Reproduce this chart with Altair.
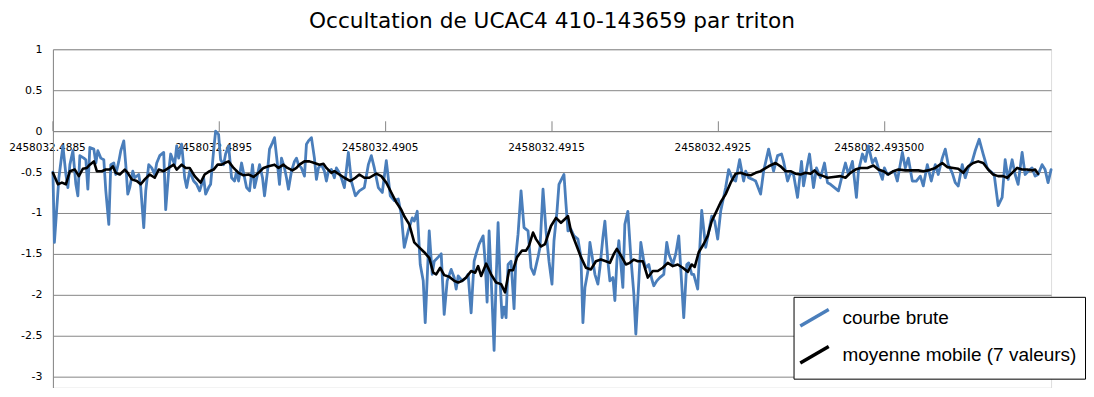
import altair as alt
import pandas as pd

# Time offsets are in micro-days after JD 2458032.4885
RAW_T = [0, 9, 36, 60, 78, 90, 102, 120, 138, 150, 162, 186, 198, 210, 222, 246, 258, 270, 288, 306,
         318, 336, 348, 366, 378, 396, 408, 426, 438, 450, 462, 480, 492, 516, 528, 546, 558, 576, 594, 612,
         624, 642, 666, 678, 696, 708, 732, 744, 756, 774, 792, 804, 822, 846, 864, 882, 906, 918, 936, 948,
         966, 978, 996, 1008, 1026, 1038, 1056, 1074, 1092, 1104, 1116, 1134, 1152, 1164, 1182, 1200, 1212, 1230, 1242, 1260,
         1272, 1290, 1302, 1320, 1332, 1350, 1362, 1374, 1392, 1404, 1416, 1434, 1452, 1464, 1476, 1494, 1512, 1524, 1536, 1554,
         1572, 1584, 1596, 1614, 1632, 1644, 1656, 1674, 1692, 1704, 1716, 1734,
         1752, 1776, 1794, 1818, 1842, 1872, 1896, 1914, 1932, 1956, 1980, 2004, 2028, 2052, 2076, 2094,
         2112, 2136, 2160, 2172, 2190, 2208, 2226, 2238, 2250, 2262, 2280, 2292, 2316, 2334, 2352, 2370, 2394, 2412, 2424, 2436,
         2460, 2484, 2496, 2514, 2532, 2544, 2562, 2586, 2598, 2610, 2622, 2640, 2652, 2664, 2676, 2688, 2700, 2712, 2724, 2736,
         2754, 2772, 2784, 2796, 2814, 2832, 2856, 2874, 2892, 2916, 2928, 2946, 2964, 2982, 3000, 3012, 3030, 3042, 3072, 3084,
         3096, 3114, 3132, 3156, 3174, 3186, 3198, 3216, 3228, 3246, 3258, 3276, 3288, 3306, 3318, 3336, 3348, 3366, 3378, 3390,
         3402, 3426, 3438, 3456, 3474, 3492, 3504, 3522, 3534, 3552, 3564, 3582, 3600, 3612, 3630, 3648, 3672, 3690, 3702, 3726,
         3744, 3762, 3792, 3810, 3822, 3840, 3852, 3876, 3900, 3924, 3960, 3978, 3996, 4014, 4044, 4062, 4086, 4104, 4128, 4152,
         4164, 4182, 4206, 4224, 4254, 4272, 4302, 4332, 4356, 4380, 4392, 4416, 4434, 4452, 4476, 4500, 4512, 4530, 4548, 4572,
         4590, 4614, 4638, 4656, 4674, 4698, 4722, 4746, 4764, 4782, 4806, 4830, 4842, 4866, 4884, 4902, 4926, 4944, 4962, 4986,
         4998, 5016, 5034, 5058, 5076, 5106, 5124, 5142, 5166, 5190, 5214, 5232, 5256, 5280, 5304, 5322, 5346, 5364, 5382, 5406,
         5424, 5442, 5466, 5484, 5502, 5526, 5544, 5568, 5592, 5616, 5634, 5658, 5682, 5706, 5724, 5742, 5766, 5784, 5802, 5826,
         5844, 5862, 5886, 5904, 5922, 5946, 5964, 5982, 6000]
RAW_V = [-0.50, -1.36, -0.57, -0.18, -0.53, -0.69, -0.41, -0.24, -0.65, -0.79, -0.30, -0.33, -0.35, -0.71, -0.20, -0.22, -0.39, -0.24, -0.33, -0.35,
         -0.73, -1.14, -0.41, -0.39, -0.53, -0.37, -0.24, -0.12, -0.41, -0.77, -0.69, -0.49, -0.57, -0.53, -0.69, -1.18, -0.73, -0.41, -0.45, -0.53,
         -0.39, -0.30, -0.26, -0.96, -0.49, -0.28, -0.41, -0.18, -0.33, -0.16, -0.57, -0.69, -0.49, -0.61, -0.65, -0.73, -0.57, -0.77, -0.69, -0.65,
         -0.24, 0.0, -0.04, -0.35, -0.41, -0.28, -0.18, -0.57, -0.61, -0.49, -0.61, -0.39, -0.57, -0.69, -0.73, -0.41, -0.69, -0.53, -0.41, -0.57,
         -0.79, -0.49, -0.22, -0.14, -0.08, -0.41, -0.65, -0.33, -0.45, -0.57, -0.71, -0.49, -0.37, -0.33, -0.41, -0.45, -0.55, -0.16, -0.12, -0.08,
         -0.33, -0.59, -0.45, -0.41, -0.49, -0.61, -0.49, -0.47, -0.57, -0.45, -0.49, -0.57,
         -0.69, -0.26, -0.61, -0.79, -0.73, -0.69, -0.41, -0.30, -0.45, -0.69, -0.75, -0.36, -0.79, -0.85, -0.83, -1.02,
         -1.42, -1.22, -1.06, -1.10, -0.98, -1.63, -1.83, -2.34, -1.79, -1.22, -1.75, -1.59, -1.54, -1.50, -2.24, -1.83, -1.69, -1.79, -1.93, -1.77,
         -1.83, -1.79, -1.75, -2.22, -1.59, -1.50, -1.38, -1.28, -1.59, -2.09, -1.22, -2.07, -2.68, -1.83, -1.12, -1.83, -2.28, -2.15, -2.28, -1.63,
         -1.59, -2.17, -1.50, -1.26, -0.73, -1.18, -1.22, -1.67, -1.75, -1.54, -1.42, -0.71, -1.22, -1.59, -1.87, -1.34, -0.98, -0.65, -0.53, -0.89,
         -1.22, -1.20, -1.28, -1.32, -1.54, -2.34, -1.91, -1.71, -1.36, -1.59, -1.75, -1.87, -1.67, -1.30, -1.10, -1.59, -1.83, -1.79, -2.07, -1.59,
         -1.34, -1.91, -1.14, -0.98, -1.54, -1.99, -2.48, -1.83, -1.36, -1.59, -1.67, -1.63, -1.81, -1.89, -1.83, -1.79, -1.75, -1.36, -1.50, -1.63,
         -1.50, -1.28, -2.28, -1.63, -1.61, -1.75, -1.75, -1.93, -0.97, -1.42, -1.04, -1.10, -1.32, -0.98, -0.69, -0.47, -0.59, -0.61, -0.35, -0.61,
         -0.49, -0.57, -0.59, -0.61, -0.77, -0.49, -0.22, -0.49, -0.30, -0.28, -0.37, -0.61, -0.51, -0.53, -0.81, -0.37, -0.67, -0.47, -0.28, -0.69,
         -0.45, -0.57, -0.39, -0.63, -0.65, -0.69, -0.73, -0.53, -0.39, -0.53, -0.37, -0.81, -0.49, -0.28, -0.37, -0.18, -0.39, -0.33, -0.45, -0.59,
         -0.45, -0.53, -0.51, -0.49, -0.61, -0.26, -0.45, -0.33, -0.61, -0.61, -0.55, -0.67, -0.41, -0.61, -0.41, -0.53, -0.33, -0.22, -0.41, -0.51,
         -0.63, -0.67, -0.41, -0.57, -0.45, -0.37, -0.24, -0.10, -0.28, -0.45, -0.49, -0.53, -0.91, -0.81, -0.35, -0.59, -0.35, -0.53, -0.65, -0.26,
         -0.53, -0.49, -0.45, -0.55, -0.53, -0.41, -0.47, -0.63, -0.47]

AVG_T = [0, 30, 54, 78, 102, 132, 156, 180, 204, 222, 246, 264, 294, 318, 342, 360, 378, 402, 432, 450,
         474, 504, 528, 552, 582, 612, 636, 666, 696, 726, 744, 774, 798, 822, 852, 888, 912, 942, 966, 990,
         1014, 1032, 1056, 1086, 1116, 1146, 1176, 1206, 1236, 1266, 1296, 1332, 1356, 1386, 1410, 1440, 1464, 1482, 1512, 1542,
         1572, 1602, 1626, 1644, 1674, 1692, 1722, 1752, 1788, 1818, 1842, 1872, 1902, 1944, 1974, 2004, 2034, 2064, 2094, 2112,
         2142, 2172, 2202, 2232, 2262, 2286, 2304, 2328, 2352, 2382, 2412, 2436, 2460, 2484, 2514, 2538, 2556, 2574, 2604, 2634,
         2664, 2694, 2718, 2742, 2766, 2790, 2820, 2844, 2862, 2886, 2904, 2934, 2958, 2994, 3024, 3054, 3096, 3114, 3144, 3174,
         3204, 3234, 3264, 3294, 3324, 3348, 3372, 3390, 3414, 3444, 3468, 3492, 3516, 3546, 3576, 3606, 3636, 3666, 3696, 3726,
         3756, 3786, 3816, 3840, 3858, 3882, 3912, 3936, 3960, 3984, 4014, 4044, 4074, 4104, 4134, 4164, 4194, 4224, 4254, 4302,
         4344, 4374, 4404, 4434, 4464, 4494, 4524, 4554, 4578, 4602, 4632, 4656, 4692, 4734, 4764, 4794, 4824, 4854, 4896, 4932,
         4962, 4992, 5022, 5052, 5082, 5124, 5166, 5202, 5232, 5262, 5304, 5346, 5376, 5412, 5442, 5472, 5502, 5532, 5562, 5592,
         5622, 5652, 5682, 5712, 5736, 5766, 5796, 5826, 5856, 5886, 5904, 5922]
AVG_V = [-0.51, -0.65, -0.63, -0.65, -0.49, -0.47, -0.55, -0.46, -0.45, -0.41, -0.37, -0.49, -0.49, -0.47, -0.47, -0.43, -0.51, -0.53, -0.47, -0.51,
         -0.59, -0.61, -0.65, -0.59, -0.53, -0.57, -0.47, -0.49, -0.45, -0.41, -0.47, -0.41, -0.45, -0.45, -0.55, -0.63, -0.53, -0.49, -0.47, -0.41,
         -0.41, -0.39, -0.37, -0.45, -0.51, -0.54, -0.53, -0.56, -0.51, -0.45, -0.43, -0.41, -0.45, -0.41, -0.45, -0.48, -0.45, -0.41, -0.37, -0.37,
         -0.39, -0.41, -0.40, -0.45, -0.51, -0.49, -0.53, -0.57, -0.61, -0.57, -0.53, -0.57, -0.57, -0.52, -0.55, -0.63, -0.75, -0.87, -0.96, -1.04,
         -1.14, -1.36, -1.42, -1.48, -1.55, -1.73, -1.75, -1.67, -1.76, -1.78, -1.83, -1.85, -1.83, -1.79, -1.71, -1.73, -1.65, -1.77, -1.62, -1.75,
         -1.85, -1.87, -1.97, -1.70, -1.70, -1.54, -1.46, -1.46, -1.40, -1.24, -1.32, -1.41, -1.38, -1.16, -1.06, -1.12, -1.04, -1.22, -1.38, -1.54,
         -1.67, -1.69, -1.59, -1.57, -1.59, -1.61, -1.50, -1.44, -1.52, -1.63, -1.61, -1.57, -1.59, -1.59, -1.79, -1.71, -1.71, -1.67, -1.61, -1.65,
         -1.63, -1.67, -1.72, -1.63, -1.66, -1.48, -1.38, -1.28, -1.10, -1.00, -0.87, -0.77, -0.63, -0.52, -0.51, -0.53, -0.54, -0.51, -0.49, -0.43,
         -0.39, -0.43, -0.49, -0.49, -0.52, -0.53, -0.51, -0.52, -0.48, -0.53, -0.55, -0.57, -0.56, -0.55, -0.57, -0.51, -0.47, -0.45, -0.45, -0.42,
         -0.47, -0.49, -0.53, -0.49, -0.47, -0.48, -0.48, -0.48, -0.49, -0.48, -0.45, -0.39, -0.44, -0.45, -0.46, -0.51, -0.43, -0.39, -0.37, -0.39,
         -0.47, -0.53, -0.55, -0.55, -0.57, -0.51, -0.45, -0.47, -0.47, -0.48, -0.47, -0.52]

SERIES = ["courbe brute", "moyenne mobile (7 valeurs)"]
SERIES_COLORS = ["#4a7ebb", "#000000"]
X_TICK_VALUES = [0, 1000, 2000, 3000, 4000, 5000]
X_TICK_LABELS = ["2458032.4885", "2458032.4895", "2458032.4905", "2458032.4915", "2458032.4925", "2458032.493500"]
Y_TICK_VALUES = [1, 0.5, 0, -0.5, -1, -1.5, -2, -2.5, -3]
TITLE = "Occultation de UCAC4 410-143659 par triton"

raw_df = pd.DataFrame({"t": RAW_T, "v": RAW_V, "serie": SERIES[0]})
avg_df = pd.DataFrame({"t": AVG_T, "v": AVG_V, "serie": SERIES[1]})
tick_df = pd.DataFrame({"t": X_TICK_VALUES})

GRID = "#868686"
PLOT_H = 339
ZERO_PX = 82  # pixel distance from plot top to the value 0
label_list = "[" + ",".join("'" + s + "'" for s in X_TICK_LABELS) + "]"

x_enc = alt.X(
    "t:Q",
    scale=alt.Scale(domain=[0, 6000], nice=False, zero=False),
    axis=alt.Axis(
        title=None, values=X_TICK_VALUES, grid=False, ticks=False, tickSize=0,
        labelExpr=label_list + "[round(datum.value/1000)]",
        labelFont="DejaVu Sans", labelFontSize=10.5, labelColor="black",
        labelPadding=11, labelOffset=-6, labelOverlap=False, labelFlush=False,
        domainColor=GRID, domainWidth=1, offset=-(PLOT_H - ZERO_PX), orient="bottom",
    ),
)
y_scale = alt.Scale(domain=[-3.135, 1], nice=False, zero=False)
y_enc = alt.Y(
    "v:Q",
    scale=y_scale,
    axis=alt.Axis(
        title=None, values=Y_TICK_VALUES, ticks=False, tickSize=0,
        labelExpr="datum.value == 0 ? '0' : (datum.value < 0 ? '-' + format(-datum.value, '') : format(datum.value, ''))",
        labelFont="DejaVu Sans", labelFontSize=11, labelColor="black", labelPadding=11,
        grid=True, gridColor=GRID, gridOpacity=1, gridWidth=1,
        domainColor=GRID, domainWidth=1,
    ),
)
color_enc = alt.Color(
    "serie:N",
    scale=alt.Scale(domain=SERIES, range=SERIES_COLORS),
    legend=alt.Legend(
        title=None, orient="none", legendX=742, legendY=248,
        fillColor="white", strokeColor="black", padding=8,
        symbolType="M-1.3,0.75L1.3,-0.75", symbolSize=480, symbolStrokeWidth=3.5,
        labelFont="Liberation Sans", labelFontSize=19, labelColor="black",
        labelOffset=15, rowPadding=5, labelLimit=400,
    ),
)

raw_line = alt.Chart(raw_df).mark_line(strokeWidth=2.8, strokeJoin="round", strokeCap="round").encode(
    x=x_enc, y=y_enc, color=color_enc
)
avg_line = alt.Chart(avg_df).mark_line(strokeWidth=2.6, strokeJoin="round", strokeCap="round").encode(
    x=alt.X("t:Q"), y=alt.Y("v:Q"), color=alt.Color("serie:N")
)
ticks = alt.Chart(tick_df).mark_rule(color=GRID, strokeWidth=1).encode(
    x=alt.X("t:Q"), y=alt.datum(0), y2=alt.datum(0.12)
)

chart = (
    alt.layer(ticks, raw_line, avg_line)
    .properties(
        width=1000, height=PLOT_H,
        title=alt.TitleParams(TITLE, font="DejaVu Sans", fontSize=21.7, fontWeight="normal", color="black", offset=11),
        padding={"left": 0, "top": 2, "right": 0, "bottom": 0},
    )
    .configure_view(stroke=None)
    .configure(background="white")
)

chart.save("out.html", embed_options={"renderer": "svg", "actions": False})
